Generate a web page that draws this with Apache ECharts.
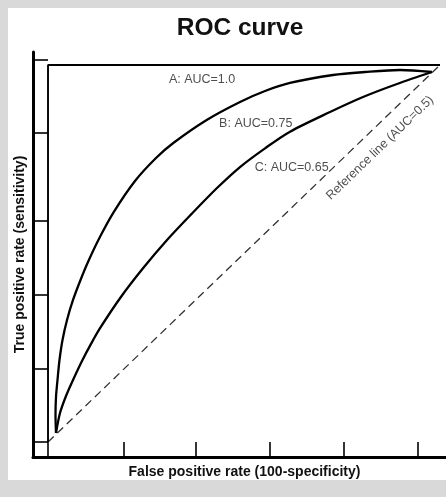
<!DOCTYPE html>
<html>
<head>
<meta charset="utf-8">
<script src="https://cdn.jsdelivr.net/npm/echarts@6/dist/echarts.min.js"></script>
<style>
html,body{margin:0;padding:0;background:#d9d9d9;}
#chart{width:446px;height:497px;}
</style>
</head>
<body>
<div id="chart"></div>
<script>
// ---- data (unit square: false positive rate vs true positive rate) ----
const titleText = 'ROC curve';
const xAxisName = 'False positive rate (100-specificity)';
const yAxisName = 'True positive rate (sensitivity)';

const curveA = [[0, 0], [0, 1], [1, 1]];
const curveB = [
  [0.0204, 0.0239], [0.0191, 0.0716], [0.0204, 0.1194], [0.0242, 0.1645],
  [0.0293, 0.2175], [0.0370, 0.2706], [0.0485, 0.3236], [0.0638, 0.3767],
  [0.0829, 0.4297], [0.1020, 0.4775], [0.1327, 0.5443], [0.1684, 0.6111],
  [0.2219, 0.6923], [0.2755, 0.7533], [0.3196, 0.7931], [0.4048, 0.8541],
  [0.4898, 0.9019], [0.5536, 0.9310], [0.6173, 0.9523], [0.7270, 0.9735],
  [0.8087, 0.9814], [0.8980, 0.9867], [0.9796, 0.9814]
];
const curveC = [
  [0.0204, 0.0239], [0.0306, 0.0769], [0.0459, 0.1220], [0.0638, 0.1645],
  [0.0867, 0.2149], [0.1097, 0.2602], [0.1327, 0.3019], [0.1837, 0.3814],
  [0.2423, 0.4607], [0.3036, 0.5358], [0.3673, 0.6061], [0.4311, 0.6737],
  [0.4898, 0.7294], [0.5536, 0.7790], [0.6173, 0.8231], [0.7194, 0.8753],
  [0.8036, 0.9151], [0.8903, 0.9496], [0.9796, 0.9814]
];
const referenceLine = [[0, 0], [1, 1]];

const labelTexts = ['A: AUC=1.0', 'B: AUC=0.75', 'C: AUC=0.65', 'Reference line (AUC=0.5)'];
const labelX = [0.393, 0.530, 0.6216, 0.847];
const labelY = [0.9627, 0.845, 0.7286, 0.780];
const labelAngle = [0, 0, 0, 44];

const xTicks = [0, 0.1931, 0.3776, 0.5645, 0.7533, 0.9421];
const yTicks = [0, 0.1936, 0.3899, 0.587, 0.8204, 1.0151];

const xMin = -0.0383, xMax = 1.0153;
const yMin = -0.0398, yMax = 1.0345;

// ---- chart ----
const chart = echarts.init(document.getElementById('chart'));
const labelData = labelTexts.map((t, i) => ({
  name: t,
  value: [labelX[i], labelY[i]],
  label: { rotate: labelAngle[i] }
}));

chart.setOption({
  animation: false,
  backgroundColor: 'transparent',
  graphic: [{
    type: 'rect', z: -10, silent: true,
    shape: { x: 8, y: 8, width: 438, height: 472 },
    style: { fill: '#ffffff' }
  }],
  title: {
    text: titleText,
    left: 235, top: 11, textAlign: 'center',
    textStyle: { fontFamily: 'Liberation Sans, Arial, sans-serif', fontSize: 24.5, fontWeight: 'bold', color: '#111' }
  },
  grid: { left: 33, right: 0, top: 52, bottom: 40, containLabel: false },
  xAxis: {
    type: 'value', min: xMin, max: xMax,
    name: xAxisName, nameLocation: 'middle', nameGap: 8,
    nameTextStyle: { fontFamily: 'Liberation Sans, Arial, sans-serif', fontSize: 14, fontWeight: 'bold', color: '#111', padding: [0, 0, 0, 10] },
    axisLine: { show: true, onZero: false, lineStyle: { color: '#000', width: 3 } },
    axisTick: { show: true, inside: true, length: 15, customValues: xTicks, lineStyle: { color: '#000', width: 1.6 } },
    axisLabel: { show: false },
    splitLine: { show: false }
  },
  yAxis: {
    type: 'value', min: yMin, max: yMax,
    name: yAxisName, nameLocation: 'middle', nameGap: 6,
    nameTextStyle: { fontFamily: 'Liberation Sans, Arial, sans-serif', fontSize: 14, fontWeight: 'bold', color: '#111' },
    axisLine: { show: true, onZero: false, lineStyle: { color: '#000', width: 3 } },
    axisTick: { show: true, inside: true, length: 15, customValues: yTicks, lineStyle: { color: '#000', width: 1.6 } },
    axisLabel: { show: false },
    splitLine: { show: false }
  },
  series: [
    { type: 'line', data: referenceLine, symbol: 'none', silent: true,
      lineStyle: { color: '#333', width: 1.3, type: [8, 5] } },
    { type: 'line', data: curveA, symbol: 'none', silent: true,
      lineStyle: { color: '#000', width: 1.9 } },
    { type: 'line', data: curveB, symbol: 'none', silent: true, smooth: 0.3,
      lineStyle: { color: '#000', width: 2.3 } },
    { type: 'line', data: curveC, symbol: 'none', silent: true, smooth: 0.3,
      lineStyle: { color: '#000', width: 2.3 } },
    { type: 'scatter', data: labelData, symbolSize: 0, silent: true,
      label: { show: true, position: 'inside', formatter: '{b}',
        fontFamily: 'Liberation Sans, Arial, sans-serif', fontSize: 12.5, color: '#222' } }
  ]
});
</script>
</body>
</html>
